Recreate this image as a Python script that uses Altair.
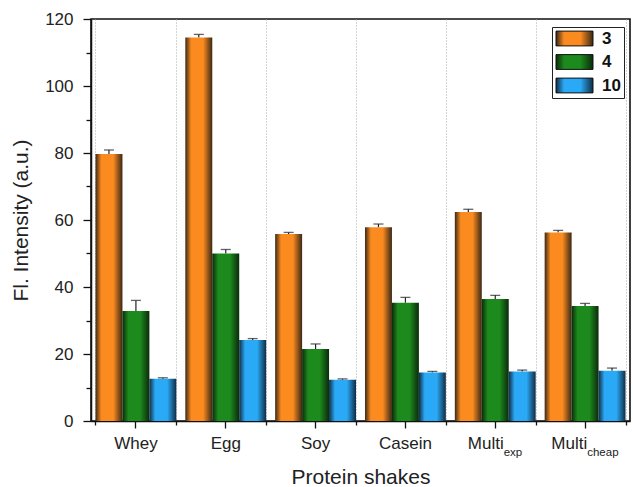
import altair as alt
import pandas as pd

# Fluorescence intensity of protein shakes at three pH values
shakes = ["Whey", "Egg", "Soy", "Casein", "Multi_exp", "Multi_cheap"]
ph_levels = ["3", "4", "10"]

intensity_3 = [79.7, 114.5, 55.8, 57.8, 62.4, 56.3]
error_3 = [1.2, 0.9, 0.5, 1.0, 0.8, 0.6]
intensity_4 = [32.8, 50.0, 21.5, 35.3, 36.4, 34.3]
error_4 = [3.2, 1.2, 1.5, 1.6, 1.1, 0.8]
intensity_10 = [12.6, 24.2, 12.3, 14.5, 14.8, 15.0]
error_10 = [0.3, 0.4, 0.3, 0.3, 0.4, 0.8]

# Axis labels; the two multi-source shakes get a subscript
base_labels = ["Whey", "Egg", "Soy", "Casein", "Multi", "Multi"]
sub_labels = ["", "", "", "", "exp", "cheap"]

rows = []
for ph, vals, errs in [("3", intensity_3, error_3),
                       ("4", intensity_4, error_4),
                       ("10", intensity_10, error_10)]:
    for s, v, e in zip(shakes, vals, errs):
        rows.append({"shake": s, "pH": ph, "value": v, "top": v + e})
df = pd.DataFrame(rows)

FONT = "Liberation Sans"
LABEL_SIZE = 17
SUB_SIZE = 11.5


def shaded(edge, mid):
    """Horizontal cylinder-like shading for a bar fill."""
    stops = [(0.0, edge), (0.22, mid), (0.5, mid), (0.66, mid), (1.0, edge)]
    s = ", ".join("{offset: %s, color: '%s'}" % (o, c) for o, c in stops)
    return alt.ExprRef(
        expr="{gradient: 'linear', x1: 0, y1: 0, x2: 1, y2: 0, stops: [%s]}" % s
    )


fills = [
    shaded("#3a2815", "#fb8b1f"),
    shaded("#0b2a0b", "#1c8a1c"),
    shaded("#102c45", "#2aaaf6"),
]

x_scale = alt.Scale(domain=shakes, paddingInner=0.1, paddingOuter=0.05)
y_scale = alt.Scale(domain=[0, 120], nice=False)
label_map = {s: b for s, b, sub in zip(shakes, base_labels, sub_labels) if not sub}
label_expr = " : ".join(
    ["datum.value == '%s' ? '%s'" % (k, v) for k, v in label_map.items()] + ["''"]
)

bars = alt.Chart(df).mark_bar().encode(
    x=alt.X("shake:N", scale=x_scale, sort=shakes,
            axis=alt.Axis(title="Protein shakes", labelExpr=label_expr,
                          labelAngle=0, tickSize=7, labelPadding=7,
                          labelFontSize=LABEL_SIZE, titleFontSize=21,
                          titlePadding=15, orient="bottom")),
    xOffset=alt.XOffset("pH:N", sort=ph_levels,
                        scale=alt.Scale(paddingInner=0, paddingOuter=0)),
    y=alt.Y("value:Q", scale=y_scale,
            axis=alt.Axis(title="Fl. Intensity (a.u.)",
                          values=[0, 20, 40, 60, 80, 100, 120],
                          tickSize=8, labelPadding=10, labelFontSize=17,
                          titleFontSize=21, titlePadding=13, orient="left")),
    color=alt.Color("pH:N", sort=ph_levels,
                    scale=alt.Scale(domain=ph_levels, range=fills),
                    legend=alt.Legend(
                        title=None, orient="none", legendX=461, legendY=8,
                        symbolType="M-2.5,-1H2.5V1H-2.5Z", symbolSize=219,
                        symbolOffset=11,
                        symbolStrokeColor="#111", symbolStrokeWidth=1,
                        labelFont=FONT, labelFontSize=17, labelFontWeight="bold",
                        labelColor="#111", strokeColor="#222", fillColor="white",
                        padding=3, rowPadding=4.5, labelOffset=19)),
)

# Whiskers, with the minor ticks and group separators on their axes
whiskers = alt.Chart(df).mark_rule(color="#222", strokeWidth=1.2).encode(
    x=alt.X("shake:N", scale=x_scale, sort=shakes,
            axis=alt.Axis(title=None, labels=False, tickBand="extent",
                          tickSize=4, grid=True, gridDash=[1, 2],
                          gridColor="#a8a8a8", gridWidth=1, domain=False,
                          orient="bottom")),
    xOffset=alt.XOffset("pH:N", sort=ph_levels,
                        scale=alt.Scale(paddingInner=0, paddingOuter=0)),
    y=alt.Y("value:Q", scale=y_scale,
            axis=alt.Axis(title=None, labels=False,
                          values=[10, 30, 50, 70, 90, 110],
                          tickSize=5, domain=False, grid=False, orient="left")),
    y2="top:Q",
)

caps = alt.Chart(df).mark_tick(color="#222", thickness=1.3, size=10).encode(
    x=alt.X("shake:N", scale=x_scale, sort=shakes, axis=None),
    xOffset=alt.XOffset("pH:N", sort=ph_levels,
                        scale=alt.Scale(paddingInner=0, paddingOuter=0)),
    y=alt.Y("top:Q", scale=y_scale, axis=None),
)

# Subscripted tick labels drawn as text
sub_df = pd.DataFrame({"shake": shakes, "base": base_labels, "sub": sub_labels})
sub_df = sub_df[sub_df["sub"] != ""]

label_layers = []
for _, r in sub_df.iterrows():
    one = pd.DataFrame([r])
    base_w = 2.111 * LABEL_SIZE
    sub_w = 0.55 * SUB_SIZE * len(r["sub"])
    left = -(base_w + sub_w) / 2
    label_layers.append(
        alt.Chart(one).mark_text(align="left", baseline="top", font=FONT,
                                 fontSize=LABEL_SIZE, color="#222", dx=left, dy=15)
        .encode(x=alt.X("shake:N", scale=x_scale, sort=shakes, axis=None),
                y=alt.Y(datum=0, scale=y_scale, axis=None),
                text="base:N")
    )
    label_layers.append(
        alt.Chart(one).mark_text(align="left", baseline="top", font=FONT,
                                 fontSize=SUB_SIZE, color="#222",
                                 dx=left + base_w, dy=26)
        .encode(x=alt.X("shake:N", scale=x_scale, sort=shakes, axis=None),
                y=alt.Y(datum=0, scale=y_scale, axis=None),
                text="sub:N")
    )

chart = (
    alt.layer(whiskers, bars, caps, *label_layers)
    .resolve_axis(x="independent", y="independent")
    .resolve_scale(x="shared", y="shared", color="shared")
    .properties(
        width=539, height=402,
        autosize=alt.AutoSizeParams(type="none"),
        padding={"left": 91, "top": 19, "right": 3, "bottom": 66},
    )
    .configure(font=FONT)
    .configure_view(stroke="#111", strokeWidth=1.6)
    .configure_axis(domainColor="#111", domainWidth=1.5, tickColor="#111",
                    tickWidth=1.3, labelColor="#222", titleColor="#222",
                    labelFont=FONT, titleFont=FONT, titleFontWeight="normal",
                    grid=False)
)

chart.save("out.html", embed_options={"renderer": "svg", "actions": False})
